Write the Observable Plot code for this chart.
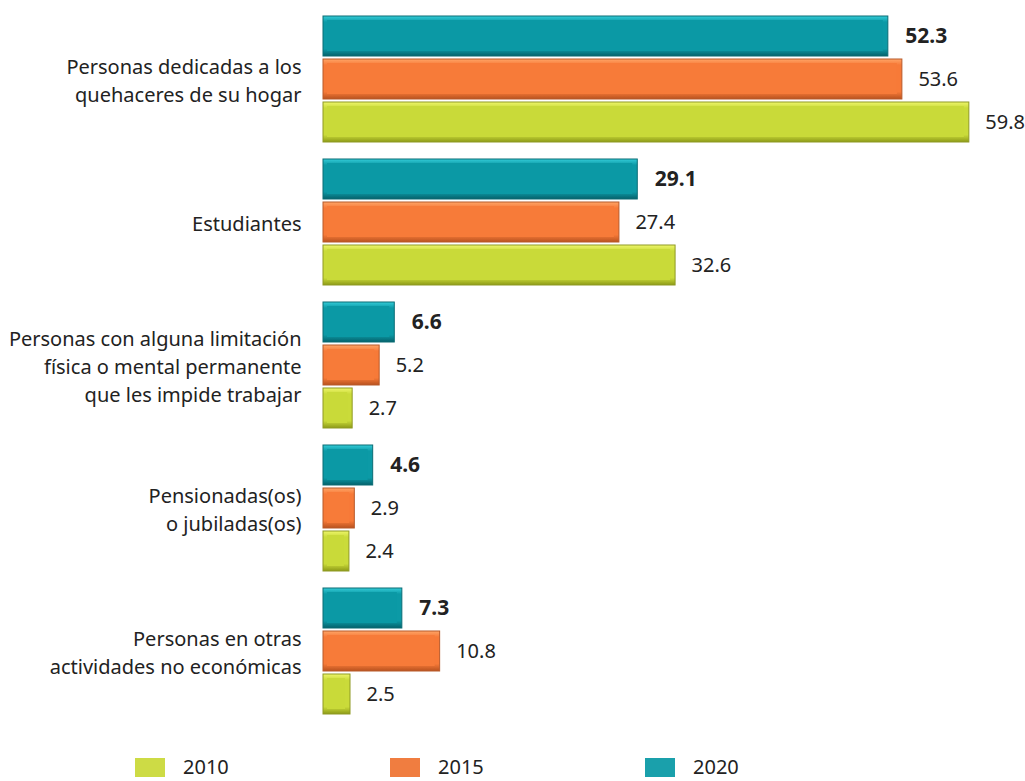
<!DOCTYPE html>
<html>
<head>
<meta charset="utf-8">
<script src="https://cdn.jsdelivr.net/npm/d3@7"></script>
<script src="https://cdn.jsdelivr.net/npm/@observablehq/plot@0.6"></script>
<style>
  html, body { margin: 0; padding: 0; background: #fff; }
  body { position: relative; width: 1025px; height: 781px; overflow: hidden; font-family: "Noto Sans", "Open Sans", sans-serif; }
  .legend { position: absolute; top: 755px; height: 24px; line-height: 24px; display: flex; align-items: center; font-size: 20px; color: #222; }
  .legend span.sw { display: inline-block; width: 30px; height: 19px; margin-right: 18px; }
</style>
</head>
<body>
<div id="chart"></div>
<script>
const categories = [
  "Personas dedicadas a los\nquehaceres de su hogar",
  "Estudiantes",
  "Personas con alguna limitación\nfísica o mental permanente\nque les impide trabajar",
  "Pensionadas(os)\no jubiladas(os)",
  "Personas en otras\nactividades no económicas"
];
const years = ["2020", "2015", "2010"];
const values2010 = [59.8, 32.6, 2.7, 2.4, 2.5];
const values2015 = [53.6, 27.4, 5.2, 2.9, 10.8];
const values2020 = [52.3, 29.1, 6.6, 4.6, 7.3];

const legendYears = ["2010", "2015", "2020"];
const legendColors = {"2010": "#cddb45", "2015": "#f07d40", "2020": "#1aa0ab"};

const series = {"2010": values2010, "2015": values2015, "2020": values2020};
const data = [];
categories.forEach((c, i) => {
  years.forEach(y => data.push({category: c, year: y, value: series[y][i]}));
});

const grad = {
  "2020": {top: "#34ccd8", mid: "#0c9aa6", bot: "#05616b", face: "#0b99a5", stroke: "#0a6c75"},
  "2015": {top: "#ffa567", mid: "#f77a38", bot: "#b8521f", face: "#f77b39", stroke: "#b85a2a"},
  "2010": {top: "#eef66a", mid: "#cadb3a", bot: "#8d9a17", face: "#c9da39", stroke: "#8f9a24"}
};

const chart = Plot.plot({
  width: 1025,
  height: 745,
  marginLeft: 323,
  marginRight: 0,
  marginTop: 14,
  marginBottom: 29,
  style: {fontFamily: "'Noto Sans', 'Open Sans', sans-serif", background: "#fff"},
  x: {domain: [0, 65], axis: null},
  fy: {domain: categories, paddingInner: 0.11, paddingOuter: 0, axis: null, label: null},
  y: {domain: years, paddingInner: 0.08, paddingOuter: 0, axis: null, label: null},
  color: {type: "identity"},
  marks: [
    Plot.barX(data, {
      fy: "category", y: "year", x: "value",
      fill: d => `url(#grad${d.year})`,
      stroke: d => grad[d.year].stroke,
      strokeWidth: 1
    }),
    Plot.barX(data, {
      fy: "category", y: "year", x: "value",
      fill: d => grad[d.year].face,
      insetTop: 4, insetBottom: 5, insetLeft: 4, insetRight: 5
    }),
    Plot.text(data.filter(d => d.year !== "2020"), {
      fy: "category", y: "year", x: "value",
      text: d => d.value.toFixed(1),
      dx: 16,
      textAnchor: "start",
      fontSize: 20,
      fill: "#222"
    }),
    Plot.text(data.filter(d => d.year === "2020"), {
      fy: "category", y: "year", x: "value",
      text: d => d.value.toFixed(1),
      dx: 17,
      textAnchor: "start",
      fontSize: 21,
      fontWeight: "bold",
      fill: "#222"
    }),
    Plot.text(categories, {
      fy: d => d,
      text: d => d,
      frameAnchor: "left",
      dx: -22,
      textAnchor: "end",
      lineHeight: 1.42,
      fontSize: 20,
      fill: "#222"
    })
  ]
});

const svg = d3.select(chart);
const defs = svg.insert("defs", ":first-child");
for (const y of years) {
  const g = defs.append("linearGradient").attr("id", "grad" + y)
    .attr("x1", 0).attr("y1", 0).attr("x2", 0).attr("y2", 1);
  g.append("stop").attr("offset", "0%").attr("stop-color", grad[y].top);
  g.append("stop").attr("offset", "15%").attr("stop-color", grad[y].mid);
  g.append("stop").attr("offset", "82%").attr("stop-color", grad[y].mid);
  g.append("stop").attr("offset", "100%").attr("stop-color", grad[y].bot);
}
document.getElementById("chart").appendChild(chart);

const legendPos = {"2010": 135, "2015": 390, "2020": 645};
for (const y of legendYears) {
  const div = document.createElement("div");
  div.className = "legend";
  div.style.left = legendPos[y] + "px";
  div.innerHTML = `<span class="sw" style="background:${legendColors[y]}"></span><span>${y}</span>`;
  document.body.appendChild(div);
}
</script>
</body>
</html>
